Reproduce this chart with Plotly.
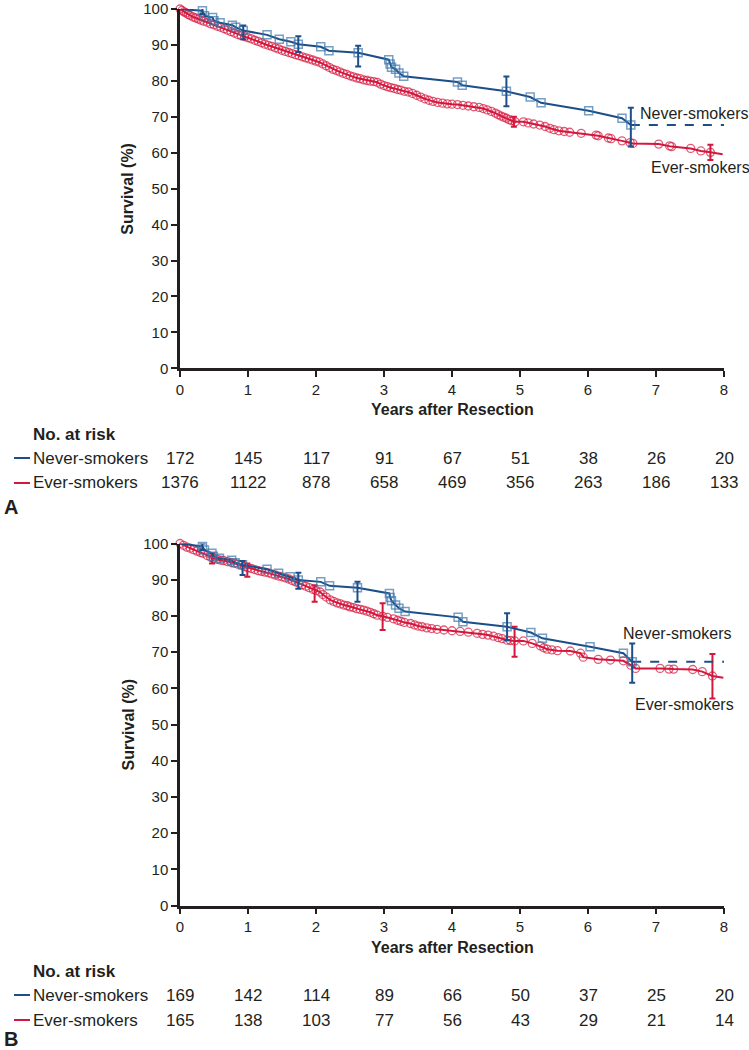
import plotly.graph_objects as go

# ---------------- data ----------------
YEARS_TICKS = [0, 1, 2, 3, 4, 5, 6, 7, 8]
FOLLOW_UP_END = 8.0

# Panel A – Never-smokers
a_never_t = [0.00, 0.33, 0.36, 0.48, 0.50, 0.59, 0.77, 0.82, 0.93, 1.28, 1.46, 1.63, 1.74, 2.07, 2.19,
             2.62, 3.07, 3.09, 3.11, 3.17, 3.22, 3.29, 4.08, 4.15, 4.80, 5.15, 5.31, 6.01, 6.50, 6.63]
a_never_s = [100.0, 99.5, 98.1, 97.6, 96.7, 96.2, 95.5, 94.9, 94.0, 92.8, 91.6, 90.9, 90.2, 89.5, 88.4,
             87.8, 85.9, 84.7, 83.8, 83.2, 82.2, 81.3, 79.7, 78.8, 77.1, 75.5, 73.9, 71.7, 69.6, 67.7]
a_never_err_t = [0.33, 0.93, 1.74, 2.62, 4.80, 6.63]
a_never_err_s = [99.5, 94.0, 90.2, 87.8, 77.1, 67.7]
a_never_err_hi = [100.3, 95.4, 92.4, 89.8, 81.2, 72.5]
a_never_err_lo = [98.6, 91.6, 88.0, 84.0, 72.9, 61.7]

# Panel A – Ever-smokers
a_ever_t = [0.00, 0.03, 0.06, 0.09, 0.12, 0.15, 0.19, 0.23, 0.27, 0.31, 0.35, 0.40, 0.45, 0.50, 0.55,
            0.60, 0.65, 0.70, 0.75, 0.80, 0.85, 0.90, 0.95, 1.00, 1.05, 1.10, 1.15, 1.20, 1.25, 1.30,
            1.35, 1.40, 1.45, 1.50, 1.55, 1.60, 1.65, 1.70, 1.75, 1.80, 1.85, 1.90, 1.95, 2.00, 2.05,
            2.10, 2.15, 2.20, 2.25, 2.30, 2.35, 2.40, 2.45, 2.50, 2.55, 2.60, 2.65, 2.70, 2.75, 2.80,
            2.85, 2.90, 2.95, 3.00, 3.05, 3.10, 3.15, 3.20, 3.25, 3.30, 3.36, 3.42, 3.48, 3.54, 3.60,
            3.66, 3.72, 3.79, 3.86, 3.93, 4.00, 4.08, 4.16, 4.24, 4.32, 4.40, 4.46, 4.52, 4.58, 4.64,
            4.68, 4.72, 4.76, 4.80, 4.84, 4.88, 4.93, 5.05, 5.12, 5.20, 5.29, 5.37, 5.44, 5.50, 5.57,
            5.65, 5.73, 5.90, 6.12, 6.15, 6.30, 6.34, 6.50, 6.62, 6.66, 7.04, 7.20, 7.23, 7.51, 7.66,
            7.80, 7.98]
a_ever_s = [100.0, 99.6, 99.2, 98.9, 98.5, 98.2, 97.8, 97.5, 97.2, 96.9, 96.6, 96.3, 95.9, 95.6, 95.2,
            94.9, 94.5, 94.1, 93.7, 93.3, 92.9, 92.6, 92.3, 92.0, 91.7, 91.3, 91.0, 90.6, 90.2, 89.9,
            89.6, 89.2, 88.9, 88.5, 88.2, 87.9, 87.6, 87.3, 87.0, 86.7, 86.4, 86.1, 85.8, 85.5, 85.2,
            84.7, 84.2, 83.7, 83.2, 82.9, 82.5, 82.1, 81.8, 81.4, 81.1, 80.8, 80.6, 80.3, 80.1, 79.9,
            79.8, 79.6, 79.1, 78.7, 78.4, 78.1, 77.9, 77.6, 77.4, 77.1, 76.9, 76.5, 76.0, 75.5, 75.0,
            74.6, 74.3, 74.0, 73.8, 73.6, 73.5, 73.4, 73.2, 73.0, 72.8, 72.6, 72.3, 71.9, 71.5, 71.0,
            70.6, 70.2, 69.9, 69.6, 69.2, 68.9, 68.6, 68.6, 68.3, 68.0, 67.7, 67.3, 66.8, 66.4, 66.1,
            65.9, 65.7, 65.4, 64.9, 64.7, 64.1, 63.9, 63.3, 62.8, 62.6, 62.4, 61.9, 61.7, 61.2, 60.5,
            60.1, 59.6]
a_ever_err_t = [4.91, 7.80]
a_ever_err_s = [68.6, 60.1]
a_ever_err_hi = [70.0, 62.2]
a_ever_err_lo = [67.2, 58.0]

# Panel B – Never-smokers
b_never_t = [0.00, 0.33, 0.36, 0.47, 0.49, 0.58, 0.76, 0.81, 0.92, 1.28, 1.45, 1.62, 1.74, 2.07, 2.20,
             2.61, 3.08, 3.09, 3.11, 3.17, 3.22, 3.31, 4.09, 4.16, 4.81, 5.16, 5.33, 6.03, 6.52, 6.65]
b_never_s = [100.0, 99.2, 98.2, 97.3, 96.5, 95.9, 95.4, 94.7, 94.1, 92.9, 91.8, 90.8, 89.9, 89.4, 88.3,
             87.8, 86.2, 85.1, 84.2, 83.0, 82.1, 81.2, 79.6, 78.4, 77.0, 75.4, 73.8, 71.5, 69.7, 67.3]
b_never_err_t = [0.33, 0.92, 1.74, 2.61, 4.81, 6.65]
b_never_err_s = [99.2, 94.1, 89.9, 87.8, 77.0, 67.3]
b_never_err_hi = [100.0, 95.2, 91.9, 89.4, 80.7, 72.4]
b_never_err_lo = [98.2, 91.3, 87.5, 83.9, 73.3, 61.5]

# Panel B – Ever-smokers (matched)
b_ever_t = [0.00, 0.05, 0.10, 0.15, 0.20, 0.25, 0.30, 0.34, 0.40, 0.45, 0.49, 0.55, 0.60, 0.64, 0.70,
            0.75, 0.80, 0.85, 0.90, 0.95, 1.00, 1.05, 1.10, 1.15, 1.20, 1.25, 1.30, 1.35, 1.40, 1.45,
            1.50, 1.55, 1.60, 1.65, 1.70, 1.75, 1.80, 1.85, 1.90, 1.96, 2.00, 2.06, 2.10, 2.15, 2.21,
            2.26, 2.31, 2.36, 2.41, 2.46, 2.50, 2.55, 2.60, 2.65, 2.70, 2.75, 2.80, 2.85, 2.90, 2.98,
            3.05, 3.14, 3.20, 3.25, 3.30, 3.39, 3.45, 3.50, 3.56, 3.63, 3.70, 3.78, 3.88, 4.00, 4.12,
            4.24, 4.37, 4.45, 4.53, 4.61, 4.68, 4.74, 4.81, 4.86, 4.92, 5.05, 5.18, 5.30, 5.35, 5.40,
            5.47, 5.55, 5.74, 5.89, 5.93, 6.15, 6.33, 6.52, 6.63, 6.70, 7.06, 7.19, 7.26, 7.54, 7.68,
            7.83, 7.99]
b_ever_s = [100.0, 99.5, 99.0, 98.7, 98.3, 97.9, 97.5, 97.3, 96.7, 96.2, 95.9, 95.6, 95.4, 95.3, 95.0,
            94.8, 94.6, 94.3, 94.0, 93.6, 93.3, 93.1, 92.8, 92.5, 92.3, 92.1, 91.9, 91.6, 91.3, 91.0,
            90.8, 90.5, 90.2, 89.8, 89.4, 89.0, 88.6, 88.2, 87.8, 87.3, 87.0, 86.6, 85.9, 85.2, 84.4,
            84.0, 83.6, 83.3, 83.0, 82.8, 82.5, 82.3, 82.0, 81.8, 81.6, 81.3, 81.0, 80.6, 80.2, 79.9,
            79.6, 79.2, 78.8, 78.5, 78.2, 77.9, 77.5, 77.2, 77.0, 76.7, 76.5, 76.3, 76.1, 75.9, 75.7,
            75.5, 75.2, 74.9, 74.7, 74.4, 74.0, 73.7, 73.3, 73.2, 73.1, 73.1, 72.4, 71.7, 71.2, 70.8,
            70.6, 70.4, 70.3, 69.7, 68.6, 68.0, 67.8, 67.6, 66.4, 65.5, 65.5, 65.3, 65.3, 65.2, 64.6,
            63.4, 62.9]
b_ever_err_t = [0.47, 0.99, 1.98, 2.98, 4.92, 7.83]
b_ever_err_s = [96.0, 93.3, 87.1, 79.9, 73.1, 63.4]
b_ever_err_hi = [97.3, 94.5, 88.5, 83.5, 77.0, 69.5]
b_ever_err_lo = [94.5, 90.8, 83.9, 76.1, 68.7, 57.2]

# Numbers at risk
a_risk_never = [172, 145, 117, 91, 67, 51, 38, 26, 20]
a_risk_ever = [1376, 1122, 878, 658, 469, 356, 263, 186, 133]
b_risk_never = [169, 142, 114, 89, 66, 50, 37, 25, 20]
b_risk_ever = [165, 138, 103, 77, 56, 43, 29, 21, 14]

GROUP_NEVER = "Never-smokers"
GROUP_EVER = "Ever-smokers"

# ---------------- styling ----------------
W, H = 749, 1050
BLUE = "#1c4f8a"
BLUE_MK = "#3d76ab"
RED = "#d4173d"
INK = "#231f20"
FONT = "Liberation Sans, Arial, Helvetica, sans-serif"
TXT = 16
TAB = 17


def px(x):
    return x / W


def py(y):
    return 1 - y / H


fig = go.Figure()

panels = [
    dict(xa="x", ya="y", top=9.0, bot=368.3,
         never=(a_never_t, a_never_s), ever=(a_ever_t, a_ever_s),
         nerr=(a_never_err_t, a_never_err_s, a_never_err_hi, a_never_err_lo),
         eerr=(a_ever_err_t, a_ever_err_s, a_ever_err_hi, a_ever_err_lo),
         risk=(a_risk_never, a_risk_ever), letter="A", letter_y=507,
         lab_never=(694, 113), lab_ever=(700, 167)),
    dict(xa="x2", ya="y2", top=543.5, bot=905.5,
         never=(b_never_t, b_never_s), ever=(b_ever_t, b_ever_s),
         nerr=(b_never_err_t, b_never_err_s, b_never_err_hi, b_never_err_lo),
         eerr=(b_ever_err_t, b_ever_err_s, b_ever_err_hi, b_ever_err_lo),
         risk=(b_risk_never, b_risk_ever), letter="B", letter_y=1039,
         lab_never=(677, 633), lab_ever=(684, 704)),
]

annotations = []
shapes = []


def ann(text, x, y, xref="paper", xanchor="center", size=TXT, angle=0):
    annotations.append(dict(text=text, x=x, y=y, xref=xref, yref="paper", xanchor=xanchor,
                            yanchor="middle", textangle=angle, showarrow=False,
                            font=dict(family=FONT, size=size, color=INK)))


for i, p in enumerate(panels):
    xa, ya = p["xa"], p["ya"]
    et, es = p["ever"]
    nt, ns = p["never"]

    # ever-smokers curve
    esizes = [8] * len(et)
    esizes[-1] = 0
    fig.add_trace(go.Scatter(
        x=et, y=es, xaxis=xa, yaxis=ya, mode="lines+markers",
        line=dict(color=RED, width=2),
        marker=dict(symbol="circle-open", size=esizes, color=RED, line=dict(width=1.3)),
        cliponaxis=False, showlegend=False, hoverinfo="skip"))
    t_, s_, hi_, lo_ = p["eerr"]
    fig.add_trace(go.Scatter(
        x=t_, y=s_, xaxis=xa, yaxis=ya, mode="markers",
        marker=dict(size=0.1, color=RED),
        error_y=dict(type="data", symmetric=False,
                     array=[h - s for h, s in zip(hi_, s_)],
                     arrayminus=[s - l for s, l in zip(s_, lo_)],
                     color=RED, thickness=2, width=3),
        cliponaxis=False, showlegend=False, hoverinfo="skip"))

    # never-smokers dashed extension
    fig.add_trace(go.Scatter(
        x=[nt[-1], FOLLOW_UP_END], y=[ns[-1], ns[-1]], xaxis=xa, yaxis=ya, mode="lines",
        line=dict(color=BLUE, width=2, dash="dash"), showlegend=False, hoverinfo="skip"))
    nsizes = [8] * len(nt)
    nsizes[0] = 0
    fig.add_trace(go.Scatter(
        x=nt, y=ns, xaxis=xa, yaxis=ya, mode="lines+markers",
        line=dict(color=BLUE, width=2),
        marker=dict(symbol="square-open", size=nsizes, color=BLUE_MK, line=dict(width=1.5)),
        cliponaxis=False, showlegend=False, hoverinfo="skip"))
    t_, s_, hi_, lo_ = p["nerr"]
    fig.add_trace(go.Scatter(
        x=t_, y=s_, xaxis=xa, yaxis=ya, mode="markers",
        marker=dict(size=0.1, color=BLUE),
        error_y=dict(type="data", symmetric=False,
                     array=[h - s for h, s in zip(hi_, s_)],
                     arrayminus=[s - l for s, l in zip(s_, lo_)],
                     color=BLUE, thickness=2, width=3),
        cliponaxis=False, showlegend=False, hoverinfo="skip"))

    axis_common = dict(showgrid=False, zeroline=False, showline=True, linewidth=2.5,
                       linecolor=INK, ticks="outside", ticklen=6, tickwidth=2, tickcolor=INK,
                       tickfont=dict(family=FONT, size=15, color=INK), fixedrange=True,
                       automargin=False, ticklabeloverflow="allow")
    xname = "xaxis" if i == 0 else "xaxis2"
    yname = "yaxis" if i == 0 else "yaxis2"
    fig.update_layout(**{
        xname: dict(domain=[px(180), px(724)], range=[0, 8], tickvals=YEARS_TICKS,
                    anchor=ya, **axis_common),
        yname: dict(domain=[py(p["bot"]), py(p["top"])], range=[0, 100], tickvals=list(range(0, 101, 10)),
                    anchor=xa, **axis_common),
    })

    off = 0 if i == 0 else 537
    # axis titles
    ann("<b>Survival (%)</b>", px(128), py((p["top"] + p["bot"]) / 2), angle=-90)
    ann("<b>Years after Resection</b>", px(452), py(410 + off))
    # curve labels
    for txt, (lx, ly) in ((GROUP_NEVER, p["lab_never"]), (GROUP_EVER, p["lab_ever"])):
        ann(txt, px(lx), py(ly))
    # number at risk table
    ann("<b>No. at risk</b>", px(31), py(434 + off), xanchor="left", size=TAB)
    rn, re_ = p["risk"]
    for name, vals, col, yy in ((GROUP_NEVER, rn, BLUE, 458 + off), (GROUP_EVER, re_, RED, 483 + off)):
        ann(name, px(31), py(yy), xanchor="left", size=TAB)
        shapes.append(dict(type="line", xref="paper", yref="paper", x0=px(14), x1=px(30),
                           y0=py(yy), y1=py(yy), line=dict(color=col, width=2)))
        for xv, v in zip(YEARS_TICKS, vals):
            ann(str(v), xv, py(yy), xref=xa, size=TAB)
    ann("<b>%s</b>" % p["letter"], px(2), py(p["letter_y"]), xanchor="left", size=20)

fig.update_layout(width=W, height=H, autosize=False, margin=dict(l=0, r=0, t=0, b=0, autoexpand=False),
                  paper_bgcolor="white", plot_bgcolor="white",
                  annotations=annotations, shapes=shapes)

fig.write_html("out.html", config={"displayModeBar": False},
               post_script="document.body.style.margin='0px';document.body.style.overflow='hidden';")
